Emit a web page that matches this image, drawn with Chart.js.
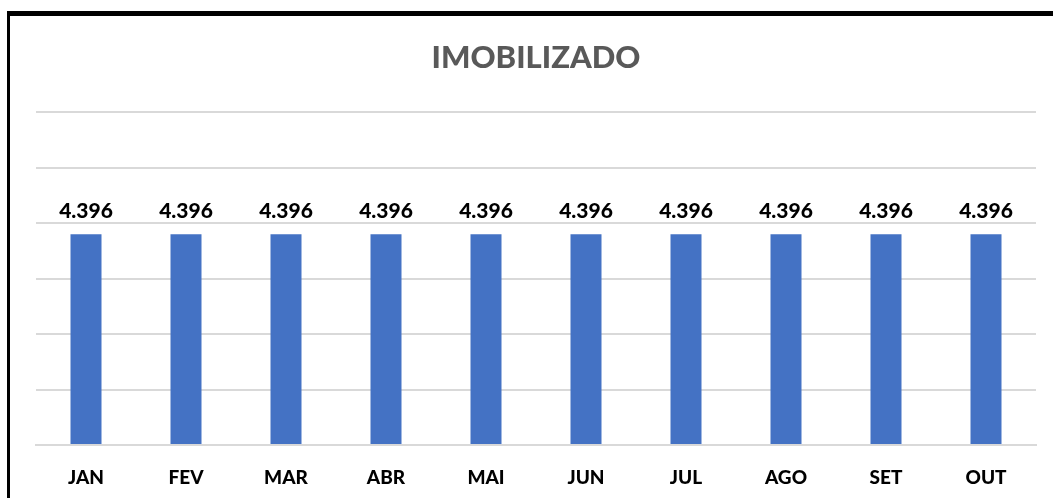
<!DOCTYPE html>
<html>
<head>
<meta charset="utf-8">
<script src="https://cdn.jsdelivr.net/npm/chart.js@4"></script>
<style>
  html,body{margin:0;padding:0;background:#fff;}
  #wrap{position:absolute;left:0;top:0;width:1053px;height:498px;}
  #frame{position:absolute;left:7px;top:11px;width:1060px;height:500px;border-top:5px solid #000;border-left:3px solid #000;}
  canvas{position:absolute;left:0;top:0;}
</style>
</head>
<body>
<div id="wrap">
  <div id="frame"></div>
  <canvas id="chart" width="1053" height="498"></canvas>
</div>
<script>
const title = 'IMOBILIZADO';
const months = ['JAN','FEV','MAR','ABR','MAI','JUN','JUL','AGO','SET','OUT'];
const values = [4396,4396,4396,4396,4396,4396,4396,4396,4396,4396];
const axisMax = 6950;

const fontFam = 'Lato, "Open Sans", sans-serif';
const fmtBR = v => String(Math.round(v)).replace(/\B(?=(\d{3})+(?!\d))/g,'.');

// title + value labels
const labelsPlugin = {
  id:'labels',
  afterDraw(chart){
    const ctx = chart.ctx;
    ctx.save();
    ctx.fillStyle = '#595959';
    ctx.font = `900 31px ${fontFam}`;
    ctx.textAlign = 'center';
    ctx.textBaseline = 'middle';
    ctx.fillText(title, (chart.chartArea.left+chart.chartArea.right)/2, 58);

    ctx.fillStyle = '#000';
    ctx.font = `900 21px ${fontFam}`;
    ctx.textBaseline = 'bottom';
    chart.getDatasetMeta(0).data.forEach((bar,i)=>{
      ctx.fillText(fmtBR(values[i]), bar.x, bar.y - 13);
    });
    ctx.restore();
  }
};

new Chart(document.getElementById('chart').getContext('2d'), {
  type:'bar',
  data:{
    labels: months,
    datasets:[{ label:title, data:values, backgroundColor:'#4472c4', barPercentage:0.31, categoryPercentage:1 }]
  },
  options:{
    responsive:false,
    animation:false,
    layout:{ padding:{ left:36, right:17, top:112, bottom:0 } },
    plugins:{ legend:{display:false}, title:{display:false}, tooltip:{enabled:false} },
    scales:{
      x:{
        grid:{ display:false },
        border:{ color:'#d9d9d9', width:2 },
        ticks:{ color:'#000', font:{ family:fontFam, size:19, weight:'900' }, padding:13 },
        afterFit(s){ s.height = 53; }
      },
      y:{
        min:0, max:axisMax,
        ticks:{ display:false, count:7 },
        grid:{ color:'#d9d9d9', lineWidth:2, drawTicks:false },
        border:{ display:false },
        afterFit(s){ s.width = 0; }
      }
    }
  },
  plugins:[labelsPlugin]
});
</script>
</body>
</html>
